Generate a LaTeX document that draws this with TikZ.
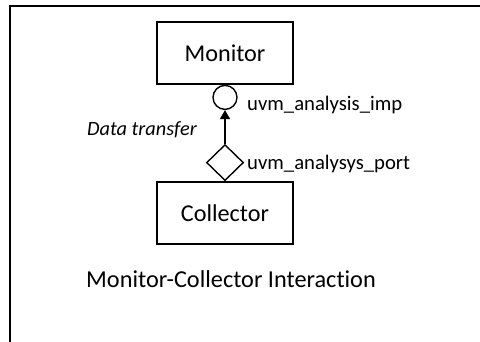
\documentclass[tikz,border=0pt]{standalone}
\usepackage{fontspec}
\setmainfont[Ligatures=NoCommon]{Carlito}
\usetikzlibrary{shapes.geometric,arrows.meta}

\tikzset{
  compbox/.style={draw, line width=1.4pt, minimum width=136pt, minimum height=62pt,
    inner sep=0pt, font=\fontsize{24.2}{28}\selectfont},
  impcirc/.style={draw, circle, line width=1.4pt, minimum size=24pt, inner sep=0pt},
  portdiam/.style={draw, diamond, line width=1.4pt, minimum width=37pt,
    minimum height=36pt, inner sep=0pt},
  portlabel/.style={anchor=base west, inner sep=0pt, font=\fontsize{20.7}{24}\selectfont},
}

\begin{document}
\begin{tikzpicture}[x=1pt, y=-1pt]
  \useasboundingbox (0,0) rectangle (480,341);

  % outer frame, only top and left edges show
  \draw[line width=2pt] (481,6) -- (10,6) -- (10,342);

  \node[compbox] (monitor) at (225,53) {Monitor};
  \node[compbox] (collector) at (225,213) {Collector};

  % ports
  \node[impcirc, anchor=north] (imp) at (monitor.south) {};
  \node[portdiam, anchor=south] (port) at (collector.north) {};

  \draw[line width=1.4pt, -{Triangle[length=9pt, width=10pt]}] (port.north) -- (imp.south);

  \node[portlabel] (implabel) at (247,110) {uvm\_analysis\_imp};
  \node[portlabel] (portlabel) at (247,169) {uvm\_analysys\_port};
  \node[portlabel, font=\fontsize{20.3}{24}\selectfont\itshape] (xfer) at (87,135) {Data transfer};

  \node[anchor=base west, inner sep=0pt, font=\fontsize{24.3}{28}\selectfont] (title) at (86,287)
    {Monitor-Collector Interaction};

\end{tikzpicture}
\end{document}
